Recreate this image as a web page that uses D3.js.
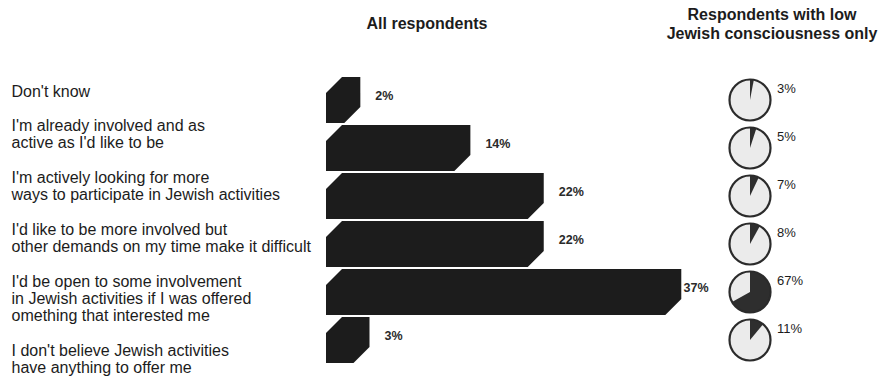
<!DOCTYPE html>
<html>
<head>
<meta charset="utf-8">
<script src="https://cdn.jsdelivr.net/npm/d3@7/dist/d3.min.js"></script>
<style>
  html, body { margin: 0; padding: 0; background: #ffffff; }
  svg { display: block; font-family: "Liberation Sans", Arial, Helvetica, sans-serif; }
</style>
</head>
<body>
<svg id="chart" width="893" height="378"></svg>
<script>
// Survey answers (each entry split into its printed lines)
const categories = [
  ["Don't know"],
  ["I'm already involved and as", "active as I'd like to be"],
  ["I'm actively looking for more", "ways to participate in Jewish activities"],
  ["I'd like to be more involved but", "other demands on my time make it difficult"],
  ["I'd be open to some involvement", "in Jewish activities if I was offered", "omething that interested me"],
  ["I don't believe Jewish activities", "have anything to offer me"]
];
// Share of all respondents (%)
const allRespondents = [2, 14, 22, 22, 37, 3];
// Share of respondents with low Jewish consciousness (%)
const lowConsciousness = [3, 5, 7, 8, 67, 11];
const titleAll = ["All respondents"];
const titleLow = ["Respondents with low", "Jewish consciousness only"];

const svg = d3.select("#chart");
const ink = "#1c1c1c";

// Row bands shared by the bars and the pies
const y = d3.scaleBand()
  .domain(d3.range(categories.length))
  .range([76, 364])
  .paddingInner(0.04)
  .paddingOuter(0.02);

// Front-face length of each bar
const x = d3.scaleLinear().domain([0, 40]).range([326, 326 + 40 * 9.17]);
const depth = 16;
const pieX = 750, pieR = 20.5;

// Column headings
svg.append("text")
  .attr("x", 427).attr("y", 29)
  .attr("text-anchor", "middle")
  .attr("font-size", 16).attr("font-weight", "bold").attr("fill", ink)
  .text(titleAll[0]);

svg.append("text")
  .attr("text-anchor", "middle")
  .attr("font-size", 16).attr("font-weight", "bold").attr("fill", ink)
  .selectAll("tspan").data(titleLow).join("tspan")
  .attr("x", 772).attr("y", (d, i) => 19.5 + i * 19)
  .text(d => d);

// Answer labels, stacked with a blank line between entries
const lineH = 17.3;
let lineNo = 0;
const labelLines = [];
categories.forEach(lines => {
  lines.forEach(t => { labelLines.push({ t, n: lineNo }); lineNo += 1; });
  lineNo += 1;
});
svg.append("g")
  .selectAll("text").data(labelLines).join("text")
  .attr("x", 11.5)
  .attr("y", d => 96.5 + d.n * lineH)
  .attr("font-size", 16).attr("fill", ink)
  .text(d => d.t);

// 3-D bars: front face, top face and side face drawn as one outline
const bars = svg.append("g");
bars.selectAll("path").data(allRespondents).join("path")
  .attr("d", (v, i) => {
    const x0 = x(0), w = x(v) - x(0);
    const y0 = y(i), y1 = y(i) + y.bandwidth();
    return `M${x0},${y0 + depth}L${x0 + depth},${y0}L${x0 + w + depth},${y0}` +
           `L${x0 + w + depth},${y1 - depth}L${x0 + w},${y1}L${x0},${y1}Z`;
  })
  .attr("fill", ink);

// Value labels, kept clear of the pie column
bars.selectAll("text").data(allRespondents).join("text")
  .attr("x", v => Math.min(x(v) + depth + 15, pieX - pieR - 46))
  .attr("y", (v, i) => y(i) + 20)
  .attr("dominant-baseline", "middle")
  .attr("font-size", 12.5).attr("font-weight", "bold").attr("fill", "#2a2a2a")
  .text(v => v + "%");

// Pies for the low-consciousness group
const arc = d3.arc().innerRadius(0).outerRadius(pieR);
const pies = svg.append("g").selectAll("g").data(lowConsciousness).join("g")
  .attr("transform", (v, i) => `translate(${pieX},${y(i) + y.bandwidth() / 2})`);

pies.append("circle")
  .attr("r", pieR)
  .attr("fill", "#ebebeb");

pies.append("path")
  .attr("d", v => arc({ startAngle: 0, endAngle: 2 * Math.PI * v / 100 }))
  .attr("fill", "#2e2e2e");

pies.append("circle")
  .attr("r", pieR)
  .attr("fill", "none")
  .attr("stroke", "#2b2b2b")
  .attr("stroke-width", 2.2);

pies.append("text")
  .attr("x", 27).attr("y", -10)
  .attr("dominant-baseline", "middle")
  .attr("font-size", 13).attr("fill", ink)
  .text(v => v + "%");
</script>
</body>
</html>
